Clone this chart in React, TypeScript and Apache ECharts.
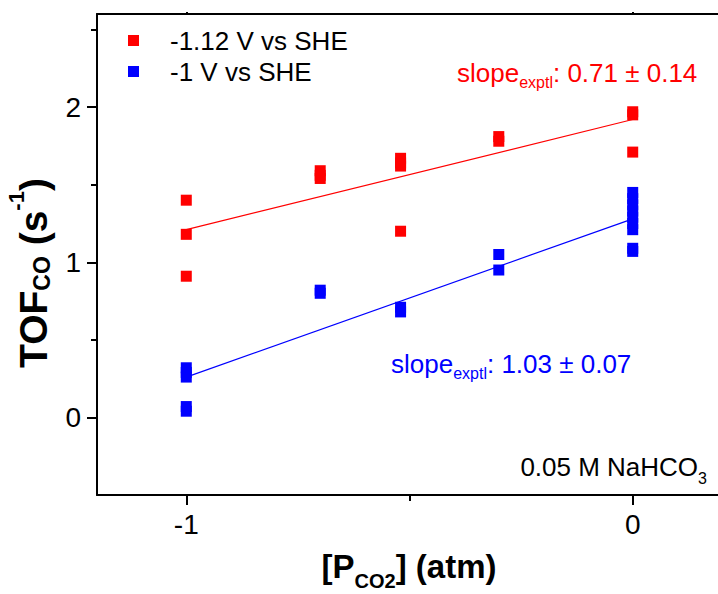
import React, { useEffect, useRef } from "react";
import * as echarts from "echarts";

// log10(P_CO2) positions and TOF_CO values
const redX = [-1, -1, -1, -0.7, -0.7, -0.7, -0.52, -0.52, -0.52, -0.52, -0.3, -0.3, 0, 0, 0];
const redY = [1.4, 1.18, 0.91, 1.59, 1.56, 1.54, 1.67, 1.64, 1.62, 1.2, 1.81, 1.78, 1.97, 1.95, 1.71];
const blueX = [-1, -1, -1, -1, -1, -0.7, -0.7, -0.52, -0.52, -0.3, -0.3, 0, 0, 0, 0, 0, 0, 0, 0, 0];
const blueY = [0.32, 0.29, 0.26, 0.07, 0.04, 0.82, 0.8, 0.71, 0.68, 1.05, 0.95, 1.45, 1.41, 1.37, 1.33, 1.29, 1.25, 1.21, 1.09, 1.07];
const redFitX = [-1, 0];
const redFitY = [1.21, 1.92];
const blueFitX = [-1, 0];
const blueFitY = [0.26, 1.28];
const seriesNames = ["-1.12 V vs SHE", "-1 V vs SHE"];
const xMajorTicks = [-1, 0];
const xMinorTicks = [-0.5];
const yMajorTicks = [0, 1, 2];
const yMinorTicks = [0.5, 1.5, 2.5];
const redSlopeText = ": 0.71 ± 0.14";
const blueSlopeText = ": 1.03 ± 0.07";

const RED = "#ff0000";
const BLUE = "#0000ff";
const FONT = "'Liberation Sans', Arial, sans-serif";

const zip = (xs: number[], ys: number[]) => xs.map((x, i) => [x, ys[i]]);

export default function App() {
  const ref = useRef<HTMLDivElement>(null);
  useEffect(() => {
    if (!ref.current) return;
    const chart = echarts.init(ref.current, undefined, { renderer: "svg" });
    const axisLine = { show: true, onZero: false, lineStyle: { color: "#000", width: 2 } };
    const xRange = { min: -1.2, max: 0.2 };
    const yRange = { min: -0.5, max: 2.6 };
    const tickStyle = { width: 2, color: "#000" };
    chart.setOption({
      animation: false,
      backgroundColor: "#fff",
      textStyle: { fontFamily: FONT },
      grid: { left: 97, top: 14, right: -4, bottom: 99, containLabel: false, outerBoundsMode: "none" },
      legend: {
        data: seriesNames,
        orient: "vertical",
        left: 128,
        top: 25,
        padding: 0,
        itemGap: 0,
        itemWidth: 11,
        itemHeight: 11,
        icon: "rect",
        textStyle: { fontSize: 26, lineHeight: 31, color: "#000", fontFamily: FONT, padding: [0, 0, 0, 26] },
      },
      xAxis: [
        {
          type: "value",
          position: "bottom",
          ...xRange,
          axisLine,
          splitLine: { show: false },
          axisTick: { show: true, customValues: xMajorTicks, length: 10, lineStyle: tickStyle },
          axisLabel: { customValues: xMajorTicks, fontSize: 28, color: "#000", margin: 15, fontFamily: FONT },
        },
        {
          type: "value",
          position: "bottom",
          ...xRange,
          axisLine: { show: false, onZero: false },
          splitLine: { show: false },
          axisTick: { show: true, customValues: xMinorTicks, length: 6, lineStyle: tickStyle },
          axisLabel: { show: false },
        },
        {
          type: "value",
          position: "top",
          ...xRange,
          axisLine,
          splitLine: { show: false },
          axisTick: { show: true, customValues: xMajorTicks, length: 2, lineStyle: tickStyle },
          axisLabel: { show: false },
        },
      ],
      yAxis: [
        {
          type: "value",
          position: "left",
          ...yRange,
          axisLine,
          splitLine: { show: false },
          axisTick: { show: true, customValues: yMajorTicks, length: 10, lineStyle: tickStyle },
          axisLabel: { customValues: yMajorTicks, fontSize: 28, color: "#000", margin: 16, fontFamily: FONT },
        },
        {
          type: "value",
          position: "left",
          ...yRange,
          axisLine: { show: false, onZero: false },
          splitLine: { show: false },
          axisTick: { show: true, customValues: yMinorTicks, length: 6, lineStyle: tickStyle },
          axisLabel: { show: false },
        },
      ],
      series: [
        {
          name: seriesNames[0],
          type: "scatter",
          symbol: "rect",
          symbolSize: 11,
          itemStyle: { color: RED, opacity: 1 },
          data: zip(redX, redY),
          z: 3,
        },
        {
          name: seriesNames[1],
          type: "scatter",
          symbol: "rect",
          symbolSize: 11,
          itemStyle: { color: BLUE, opacity: 1 },
          data: zip(blueX, blueY),
          z: 3,
        },
        {
          name: "red fit",
          type: "line",
          showSymbol: false,
          symbol: "none",
          lineStyle: { color: RED, width: 1.2 },
          data: zip(redFitX, redFitY),
          z: 2,
        },
        {
          name: "blue fit",
          type: "line",
          showSymbol: false,
          symbol: "none",
          lineStyle: { color: BLUE, width: 1.2 },
          data: zip(blueFitX, blueFitY),
          z: 2,
        },
      ],
      graphic: [
        {
          type: "text",
          x: 457,
          y: 60,
          style: {
            text: "{m|slope}{s|exptl}{m|" + redSlopeText + "}",
            fill: RED,
            align: "left",
            verticalAlign: "top",
            rich: {
              m: { fontSize: 26, lineHeight: 26, verticalAlign: "top", fill: RED, fontFamily: FONT },
              s: { fontSize: 16, lineHeight: 30.5, verticalAlign: "bottom", fill: RED, fontFamily: FONT },
            },
          },
        },
        {
          type: "text",
          x: 391,
          y: 351,
          style: {
            text: "{m|slope}{s|exptl}{m|" + blueSlopeText + "}",
            fill: BLUE,
            align: "left",
            verticalAlign: "top",
            rich: {
              m: { fontSize: 26, lineHeight: 26, verticalAlign: "top", fill: BLUE, fontFamily: FONT },
              s: { fontSize: 16, lineHeight: 30.5, verticalAlign: "bottom", fill: BLUE, fontFamily: FONT },
            },
          },
        },
        {
          type: "text",
          x: 707,
          y: 454,
          style: {
            text: "{m|0.05 M NaHCO}{s|3}",
            fill: "#000",
            align: "right",
            verticalAlign: "top",
            rich: {
              m: { fontSize: 26, lineHeight: 26, verticalAlign: "top", fill: "#000", fontFamily: FONT },
              s: { fontSize: 16, lineHeight: 32.5, verticalAlign: "bottom", fill: "#000", fontFamily: FONT },
            },
          },
        },
        {
          type: "text",
          x: 409,
          y: 550,
          style: {
            text: "{m|[P}{s|CO2}{m|] (atm)}",
            fill: "#000",
            align: "center",
            verticalAlign: "top",
            rich: {
              m: { fontSize: 33, fontWeight: "bold", lineHeight: 33, verticalAlign: "top", fill: "#000", fontFamily: FONT },
              s: { fontSize: 20, fontWeight: "bold", lineHeight: 41, verticalAlign: "bottom", fill: "#000", fontFamily: FONT },
            },
          },
        },
        {
          type: "text",
          x: 29,
          y: 273,
          rotation: Math.PI / 2,
          style: {
            text: "{m|TOF}{s|CO}{m| (s}{p|-1}{m|)}",
            fill: "#000",
            align: "center",
            verticalAlign: "middle",
            rich: {
              m: { fontSize: 39, fontWeight: "bold", lineHeight: 48, verticalAlign: "bottom", fill: "#000", fontFamily: FONT },
              s: { fontSize: 23, fontWeight: "bold", lineHeight: 23, verticalAlign: "bottom", fill: "#000", fontFamily: FONT },
              p: { fontSize: 22, fontWeight: "bold", lineHeight: 22, verticalAlign: "top", fill: "#000", fontFamily: FONT },
            },
          },
        },
      ],
    });
    return () => chart.dispose();
  }, []);
  return (
    <div
      ref={ref}
      style={{ position: "fixed", left: 0, top: 0, width: 718, height: 594, background: "#fff" }}
    />
  );
}
